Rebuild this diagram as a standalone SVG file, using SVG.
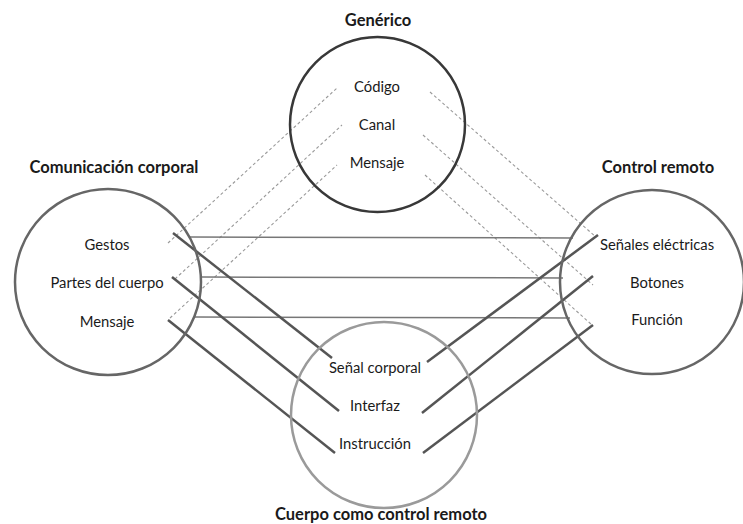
<svg xmlns="http://www.w3.org/2000/svg" width="743" height="524" viewBox="0 0 743 524">
<style>
text{font-family:Lato,"Open Sans","Liberation Sans",sans-serif;fill:#1a1a1a;text-anchor:middle}
.t{font-size:14.8px}
.h{font-size:16.5px;font-weight:bold}
.ring{fill:none;stroke-width:2.5}
.dash{stroke:#9a9a9a;stroke-width:1.1;stroke-dasharray:3 2.5;fill:none}
.hor{stroke:#777;stroke-width:1.5;fill:none}
.sol{stroke:#555;stroke-width:2.5;fill:none}
</style>
<rect width="743" height="524" fill="#fff"/>
<g id="connectors">
<line class="dash" x1="168" y1="243" x2="337" y2="88"/>
<line class="dash" x1="175" y1="279" x2="342" y2="125"/>
<line class="dash" x1="170" y1="318" x2="337" y2="165"/>
<line class="dash" x1="430" y1="92" x2="596" y2="237"/>
<line class="dash" x1="423" y1="135" x2="593" y2="285"/>
<line class="dash" x1="425" y1="175" x2="592" y2="325"/>
<line class="hor" x1="190" y1="237" x2="573" y2="238"/>
<line class="hor" x1="202" y1="277" x2="563" y2="278"/>
<line class="hor" x1="195" y1="317" x2="570" y2="318"/>
<line class="sol" x1="173" y1="233" x2="332" y2="358"/>
<line class="sol" x1="172" y1="277" x2="339" y2="411"/>
<line class="sol" x1="168" y1="320" x2="335" y2="453"/>
<line class="sol" x1="427" y1="362" x2="598" y2="235"/>
<line class="sol" x1="422" y1="413" x2="593" y2="276"/>
<line class="sol" x1="423" y1="453" x2="593" y2="325"/>
</g>
<g id="generico">
<circle class="ring" cx="377.5" cy="124.5" r="87.5" stroke="#383838"/>
<text class="h" x="378" y="26">Genérico</text>
<text class="t" x="377" y="92">Código</text>
<text class="t" x="377" y="130">Canal</text>
<text class="t" x="377" y="168">Mensaje</text>
</g>
<g id="comunicacion">
<circle class="ring" cx="108" cy="282" r="93" stroke="#666"/>
<text class="h" x="114" y="173">Comunicación corporal</text>
<text class="t" x="107" y="250">Gestos</text>
<text class="t" x="107" y="288">Partes del cuerpo</text>
<text class="t" x="107" y="327">Mensaje</text>
</g>
<g id="control">
<circle class="ring" cx="652" cy="282" r="92" stroke="#666"/>
<text class="h" x="658" y="173">Control remoto</text>
<text class="t" x="657" y="250">Señales eléctricas</text>
<text class="t" x="657" y="288">Botones</text>
<text class="t" x="657" y="325">Función</text>
</g>
<g id="cuerpo">
<circle class="ring" cx="384" cy="415" r="93" stroke="#9a9a9a"/>
<text class="t" x="375" y="373">Señal corporal</text>
<text class="t" x="375" y="411">Interfaz</text>
<text class="t" x="375" y="449">Instrucción</text>
<text class="h" x="381" y="520">Cuerpo como control remoto</text>
</g>
</svg>
